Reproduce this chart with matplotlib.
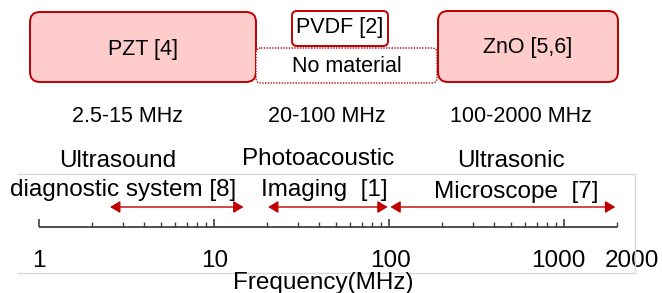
import matplotlib.pyplot as plt
from matplotlib.patches import FancyBboxPatch

plt.rcParams['font.family'] = ['Liberation Sans', 'DejaVu Sans']

# material boxes (top row)
materials = ["PZT [4]", "PVDF [2]", "ZnO [5,6]"]
no_material = "No material"
band_labels = ["2.5-15 MHz", "20-100 MHz", "100-2000 MHz"]

# application ranges on the frequency axis (MHz)
range_lo = [2.5, 20, 100]
range_hi = [15, 100, 2000]
app_top = ["Ultrasound", "Photoacoustic", "Ultrasonic"]
app_bottom = ["diagnostic system [8]", "Imaging  [1]", "Microscope  [7]"]

major_ticks = [1, 10, 100, 1000]
minor_ticks = [2, 3, 4, 5, 6, 7, 8, 9,
               20, 30, 40, 50, 60, 70, 80, 90,
               200, 300, 400, 500, 600, 700, 800, 900, 2000]
tick_labels = ["1", "10", "100", "1000", "2000"]
tick_label_values = [1, 10, 100, 1000, 2000]

RED = "#C00000"
FILL = "#FFCCCC"
W, H = 662, 293

fig = plt.figure(figsize=(6.62, 2.93), dpi=100)

# frequency axis (log x, pixel-like y)
ax = fig.add_axes([0, 0, 1, 1])
ax.set_xscale("log")
ax.set_xlim(0.598, 3631)
ax.set_ylim(H, 0)
ax.axis("off")

# overlay for diagram boxes / free text
lay = fig.add_axes([0, 0, 1, 1])
lay.set_xlim(0, W)
lay.set_ylim(H, 0)
lay.axis("off")

# light frame around the axis area (no left side)
lay.plot([18, 635, 635, 18], [174, 174, 273, 273], color="#D9D9D9", lw=1)

# axis line and ticks
ax.plot([1, 2000], [227, 227], color="#404040", lw=1.3, solid_capstyle="butt")
ax.vlines(major_ticks, 219, 227, color="#404040", lw=1.2)
ax.vlines(minor_ticks, 222, 227, color="#404040", lw=1.0)

label_dx = [0, 1, 1, -6, 15]
for v, t, dx in zip(tick_label_values, tick_labels, label_dx):
    ax.annotate(t, xy=(v, 267), xytext=(dx, 0), textcoords="offset pixels",
                ha="center", va="baseline", fontsize=17.5)

lay.text(323, 289, "Frequency(MHz)", ha="center", va="baseline", fontsize=17.5)

# range arrows
for lo, hi in zip(range_lo, range_hi):
    ax.annotate("", xy=(hi, 207), xytext=(lo, 207),
                arrowprops=dict(arrowstyle="<|-|>,head_length=0.6,head_width=0.36",
                                color=RED, lw=1.0, shrinkA=1, shrinkB=1))

# application labels
top_x = [118, 318, 511]
top_y = [167, 165, 167]
bot_x = [123, 324, 516]
bot_y = [196, 196, 198]
for i in range(3):
    lay.text(top_x[i], top_y[i], app_top[i], ha="center", va="baseline", fontsize=17.5)
    lay.text(bot_x[i], bot_y[i], app_bottom[i], ha="center", va="baseline", fontsize=17.5)

# material boxes
def rbox(x0, y0, x1, y1, r, fc, ls="-", lw=1.4):
    p = FancyBboxPatch((x0, y0), x1 - x0, y1 - y0,
                       boxstyle=f"round,pad=0,rounding_size={r}",
                       fc=fc, ec=RED, lw=lw, ls=ls)
    lay.add_patch(p)

rbox(30, 12, 256, 82, 10, FILL)
rbox(292, 11, 388, 46, 5, "white")
rbox(256, 48, 437, 83, 5, "white", ls=(0, (1, 1)), lw=1.0)
rbox(438, 11, 618, 82, 10, FILL)

lay.text(143, 49, materials[0], ha="center", va="center", fontsize=15.5)
lay.text(340, 28, materials[1], ha="center", va="center", fontsize=15.5)
lay.text(347, 66, no_material, ha="center", va="center", fontsize=15.5)
lay.text(528, 48, materials[2], ha="center", va="center", fontsize=15.5)

band_x = [127, 327, 521]
for x, t in zip(band_x, band_labels):
    lay.text(x, 117, t, ha="center", va="center", fontsize=15.5)

fig.savefig("out.png", dpi=100)
